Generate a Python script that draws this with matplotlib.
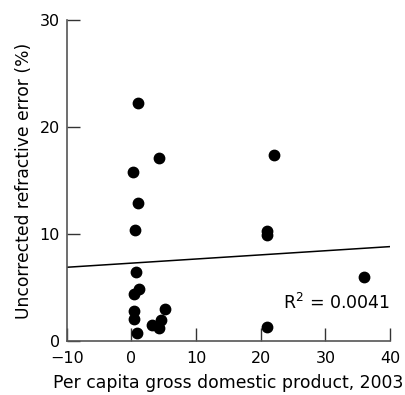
import matplotlib.pyplot as plt
import numpy as np

# per capita GDP (thousands) vs uncorrected refractive error (%)
gdp = [1.0, 4.2, 0.2, 22.1, 1.0, 0.5, 20.9, 20.9, 0.7, 35.9,
       1.2, 0.4, 0.4, 0.4, 0.8, 5.2, 4.5, 3.1, 4.2, 20.9]
ref_err = [22.3, 17.15, 15.84, 17.37, 12.9, 10.36, 10.3, 9.9, 6.44, 6.04,
           4.9, 4.4, 2.86, 2.08, 0.8, 2.99, 1.99, 1.52, 1.21, 1.37]

# regression line as shown
fit_slope = 0.0386
fit_intercept = 7.3
r2_text = "R$^2$ = 0.0041"

plt.rcParams['font.family'] = ['DejaVu Sans']

fig = plt.figure(figsize=(4.05, 3.95), dpi=100)
ax = fig.add_axes([0.165, 0.136, 0.798, 0.813])

ax.scatter(gdp, ref_err, s=56, color='black', zorder=3)

xs = np.array([-10, 40])
ax.plot(xs, fit_intercept + fit_slope * xs, color='black', lw=1.1)

ax.text(40, 3.6, r2_text, ha='right', va='center', fontsize=12.5)

ax.set_xlim(-10, 40)
ax.set_ylim(0, 30)
ax.set_xticks([-10, 0, 10, 20, 30, 40])
ax.set_yticks([0, 10, 20, 30])
ax.set_xticklabels(['\u221210', '0', '10', '20', '30', '40'])

for s in ['top', 'right']:
    ax.spines[s].set_visible(False)
for s in ['left', 'bottom']:
    ax.spines[s].set_color('#555555')
    ax.spines[s].set_linewidth(1.2)

ax.tick_params(direction='in', length=9.5, width=1, color='#333333',
               labelsize=11.5)
ax.tick_params(axis='x', pad=7)
ax.tick_params(axis='y', pad=5)

ax.set_xlabel("Per capita gross domestic product, 2003", fontsize=12.4, labelpad=6)
ax.set_ylabel("Uncorrected refractive error (%)", fontsize=12.3, labelpad=5)

fig.savefig("out.png", dpi=100)
